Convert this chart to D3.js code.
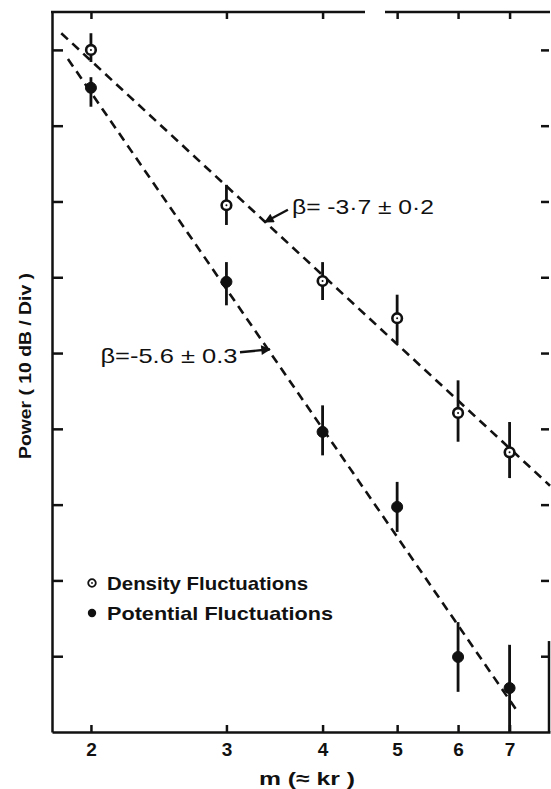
<!DOCTYPE html>
<html>
<head>
<meta charset="utf-8">
<script src="https://cdn.jsdelivr.net/npm/d3@7"></script>
<style>
  body { margin: 0; background: #fff; }
  svg { display: block; }
  text { font-family: "Liberation Sans", Arial, sans-serif; font-weight: bold; fill: #111; }
</style>
</head>
<body>
<svg width="551" height="789"></svg>
<script>
// values (power in dB, m on a log axis)
var mValues = [2, 3, 4, 5, 6, 7];
var densityPower = [90.0, 69.5, 59.5, 54.6, 42.1, 36.9];
var densityLow = [88.4, 66.9, 57.0, 51.3, 38.3, 33.5];
var densityHigh = [92.2, 72.2, 62.0, 57.7, 46.4, 40.9];
var potentialPower = [85.0, 59.4, 39.6, 29.7, 9.9, 5.8];
var potentialLow = [82.5, 56.3, 36.5, 26.4, 5.3, 0];
var potentialHigh = [86.4, 62.0, 43.1, 33.0, 14.5, 11.5];
var densityFit = [[1.83, 92.2], [7.9, 32.5]];
var potentialFit = [[1.867, 88.8], [7.19, 2.5]];
var xTicks = [2, 3, 4, 5, 6, 7];
var yTicks = [10, 20, 30, 40, 50, 60, 70, 80, 90];

var svg = d3.select("svg");
var plotLeft = 52, plotRight = 550, plotTop = 12, plotBottom = 732;

var x = d3.scaleLog().domain([1.78, 7.9]).range([plotLeft, plotRight]);
var y = d3.scaleLinear().domain([0, 95]).range([plotBottom, plotTop]);

var ink = "#111";

// axes
var gb = svg.append("g").attr("transform", "translate(0," + plotBottom + ")")
  .call(d3.axisBottom(x).tickValues(xTicks).tickFormat(d3.format("d"))
    .tickSizeInner(-7).tickSizeOuter(0).tickPadding(10));
gb.selectAll("text").style("font-size", "19px").attr("dy", "0.75em");

var gt = svg.append("g").attr("transform", "translate(0," + plotTop + ")")
  .call(d3.axisTop(x).tickValues(xTicks).tickFormat("").tickSizeInner(-7).tickSizeOuter(0));
gt.select(".domain").remove();

var gl = svg.append("g").attr("transform", "translate(" + plotLeft + ",0)")
  .call(d3.axisLeft(y).tickValues(yTicks).tickFormat("").tickSizeInner(-11).tickSizeOuter(0));

var gr = svg.append("g").attr("transform", "translate(" + (plotRight - 1) + ",0)")
  .call(d3.axisRight(y).tickValues(yTicks).tickFormat("").tickSizeInner(-8).tickSizeOuter(0));
gr.select(".domain").remove();

svg.selectAll(".tick line").attr("stroke", ink).attr("stroke-width", 2.5);
svg.selectAll(".domain").attr("stroke", ink).attr("stroke-width", 2.5);

// top border, broken in the original scan
svg.append("line").attr("x1", plotLeft - 1).attr("x2", 365).attr("y1", plotTop).attr("y2", plotTop)
  .attr("stroke", ink).attr("stroke-width", 2.5);
svg.append("line").attr("x1", 385).attr("x2", plotRight).attr("y1", plotTop).attr("y2", plotTop)
  .attr("stroke", ink).attr("stroke-width", 2.5);
// right border, only the lower part is in the picture
svg.append("line").attr("x1", plotRight - 1).attr("x2", plotRight - 1).attr("y1", y(12)).attr("y2", plotBottom)
  .attr("stroke", ink).attr("stroke-width", 2.5);

// fitted lines
var line = d3.line().x(function(d) { return x(d[0]); }).y(function(d) { return y(d[1]); });
[densityFit, potentialFit].forEach(function(f) {
  svg.append("path").attr("d", line(f)).attr("fill", "none")
    .attr("stroke", ink).attr("stroke-width", 2.6).attr("stroke-dasharray", "9,6");
});

function drawSeries(power, low, high, filled) {
  var g = svg.append("g");
  g.selectAll("line.err").data(mValues).enter().append("line")
    .attr("class", "err")
    .attr("x1", function(d) { return x(d); })
    .attr("x2", function(d) { return x(d); })
    .attr("y1", function(d, i) { return y(low[i]); })
    .attr("y2", function(d, i) { return y(high[i]); })
    .attr("stroke", ink).attr("stroke-width", 2.8);
  g.selectAll("circle.pt").data(mValues).enter().append("circle")
    .attr("class", "pt")
    .attr("cx", function(d) { return x(d); })
    .attr("cy", function(d, i) { return y(power[i]); })
    .attr("r", filled ? 5.5 : 4.8)
    .attr("fill", filled ? ink : "#fff")
    .attr("stroke", ink).attr("stroke-width", filled ? 1 : 2.6);
  if (!filled) {
    g.selectAll("circle.dot").data(mValues).enter().append("circle")
      .attr("class", "dot")
      .attr("cx", function(d) { return x(d); })
      .attr("cy", function(d, i) { return y(power[i]); })
      .attr("r", 1).attr("fill", ink);
  }
}
drawSeries(densityPower, densityLow, densityHigh, false);
drawSeries(potentialPower, potentialLow, potentialHigh, true);

// annotations with arrows
svg.append("defs").append("marker").attr("id", "head")
  .attr("viewBox", "0 0 10 10").attr("refX", 9).attr("refY", 5)
  .attr("markerWidth", 5).attr("markerHeight", 4).attr("orient", "auto")
  .append("path").attr("d", "M0,0L10,5L0,10z").attr("fill", ink);

function arrow(from, to) {
  svg.append("line")
    .attr("x1", x(from[0])).attr("y1", y(from[1]))
    .attr("x2", x(to[0])).attr("y2", y(to[1]))
    .attr("stroke", ink).attr("stroke-width", 2.4).attr("marker-end", "url(#head)");
}
arrow([3.606, 68.9], [3.366, 67.3]);
arrow([3.124, 50.1], [3.417, 50.5]);

svg.append("text").attr("x", x(3.65)).attr("y", y(69.3)).attr("dy", "0.35em")
  .style("font-size", "21px").style("font-weight", "normal")
  .attr("textLength", 142).attr("lengthAdjust", "spacingAndGlyphs")
  .text("β= -3·7 ± 0·2");
svg.append("text").attr("x", x(3.1)).attr("y", y(49.7)).attr("dy", "0.35em")
  .attr("text-anchor", "end")
  .style("font-size", "21px").style("font-weight", "normal")
  .attr("textLength", 137).attr("lengthAdjust", "spacingAndGlyphs")
  .text("β=-5.6 ± 0.3");

// legend
var legend = svg.append("g").attr("transform", "translate(92,583)");
legend.append("circle").attr("r", 3.8).attr("fill", "#fff").attr("stroke", ink).attr("stroke-width", 1.8);
legend.append("circle").attr("r", 0.9).attr("fill", ink);
legend.append("circle").attr("cy", 30).attr("r", 4.2).attr("fill", ink);
legend.append("text").attr("x", 15).attr("dy", "0.35em").style("font-size", "19px")
  .attr("textLength", 201).attr("lengthAdjust", "spacingAndGlyphs").text("Density Fluctuations");
legend.append("text").attr("x", 15).attr("y", 30).attr("dy", "0.35em").style("font-size", "19px")
  .attr("textLength", 226).attr("lengthAdjust", "spacingAndGlyphs").text("Potential  Fluctuations");

// axis titles
svg.append("text").attr("x", 307).attr("y", 778).attr("dy", "0.35em")
  .attr("text-anchor", "middle").style("font-size", "19px")
  .attr("textLength", 96).attr("lengthAdjust", "spacingAndGlyphs")
  .text("m  (≈ kr )");
svg.append("text").attr("transform", "translate(25,366) rotate(-90)")
  .attr("dy", "0.35em").attr("text-anchor", "middle").style("font-size", "16px")
  .attr("textLength", 186).attr("lengthAdjust", "spacingAndGlyphs")
  .text("Power ( 10 dB / Div )");
</script>
</body>
</html>
